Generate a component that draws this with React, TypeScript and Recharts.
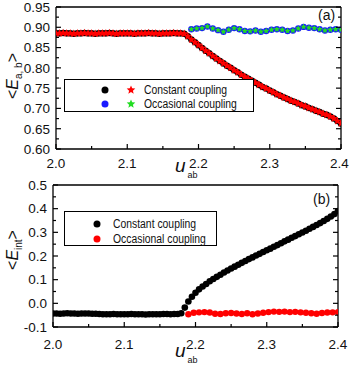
import React from "react";
import { ScatterChart, Scatter, XAxis, YAxis } from "recharts";

const FONT = '"Liberation Sans", Arial, Helvetica, sans-serif';

// u_ab grid of the constant-coupling runs (step 0.005)
const uDense = [
  2.0, 2.005, 2.01, 2.015, 2.02, 2.025, 2.03, 2.035, 2.04, 2.045,
  2.05, 2.055, 2.06, 2.065, 2.07, 2.075, 2.08, 2.085, 2.09, 2.095,
  2.1, 2.105, 2.11, 2.115, 2.12, 2.125, 2.13, 2.135, 2.14, 2.145,
  2.15, 2.155, 2.16, 2.165, 2.17, 2.175, 2.18, 2.185, 2.19, 2.195,
  2.2, 2.205, 2.21, 2.215, 2.22, 2.225, 2.23, 2.235, 2.24, 2.245,
  2.25, 2.255, 2.26, 2.265, 2.27, 2.275, 2.28, 2.285, 2.29, 2.295,
  2.3, 2.305, 2.31, 2.315, 2.32, 2.325, 2.33, 2.335, 2.34, 2.345,
  2.35, 2.355, 2.36, 2.365, 2.37, 2.375, 2.38, 2.385, 2.39, 2.395,
  2.4,
];

// panel (a): <E_a,b>, constant coupling
const eabConstant = [
  0.885, 0.885, 0.886, 0.885, 0.885, 0.884, 0.885, 0.885, 0.886, 0.885,
  0.885, 0.884, 0.885, 0.885, 0.885, 0.886, 0.885, 0.884, 0.885, 0.885,
  0.885, 0.885, 0.884, 0.885, 0.885, 0.885, 0.886, 0.885, 0.885, 0.884,
  0.885, 0.885, 0.885, 0.886, 0.885, 0.885, 0.884, 0.878, 0.87, 0.863,
  0.856, 0.849, 0.842, 0.836, 0.829, 0.823, 0.817, 0.811, 0.805, 0.8,
  0.794, 0.789, 0.783, 0.778, 0.773, 0.768, 0.763, 0.758, 0.753, 0.749,
  0.744, 0.74, 0.735, 0.731, 0.727, 0.723, 0.719, 0.716, 0.712, 0.708,
  0.705, 0.701, 0.698, 0.694, 0.691, 0.687, 0.684, 0.68, 0.675, 0.669,
  0.663,
];

// panel (b): <E_int>, constant coupling
const eintConstant = [
  -0.043, -0.043, -0.044, -0.043, -0.042, -0.043, -0.043, -0.044, -0.043, -0.043,
  -0.043, -0.044, -0.044, -0.045, -0.046, -0.046, -0.046, -0.045, -0.046, -0.046,
  -0.046, -0.046, -0.045, -0.046, -0.046, -0.046, -0.047, -0.046, -0.046, -0.046,
  -0.046, -0.045, -0.045, -0.046, -0.045, -0.045, -0.042, -0.018, 0.008, 0.028,
  0.045, 0.059, 0.071, 0.082, 0.093, 0.103, 0.112, 0.121, 0.13, 0.139,
  0.147, 0.155, 0.163, 0.171, 0.179, 0.187, 0.194, 0.202, 0.209, 0.217,
  0.224, 0.231, 0.239, 0.246, 0.254, 0.262, 0.269, 0.277, 0.284, 0.292,
  0.299, 0.307, 0.315, 0.323, 0.331, 0.339, 0.348, 0.357, 0.367, 0.377,
  0.39,
];

// occasional coupling runs start at 2.19
const uSparse = [
  2.19, 2.1975, 2.205, 2.2125, 2.22, 2.2275, 2.235, 2.2425, 2.25, 2.2575,
  2.265, 2.2725, 2.28, 2.2875, 2.295, 2.3025, 2.31, 2.3175, 2.325, 2.3325,
  2.34, 2.3475, 2.355, 2.3625, 2.37, 2.3775, 2.385, 2.3925, 2.4,
];
const eabOccasional = [
  0.895, 0.897, 0.898, 0.902, 0.897, 0.893, 0.889, 0.894, 0.898, 0.895,
  0.891, 0.89, 0.892, 0.889, 0.891, 0.894, 0.895, 0.894, 0.891, 0.892,
  0.897, 0.901, 0.899, 0.898, 0.895, 0.892, 0.894, 0.895, 0.894,
];
const eintOccasional = [
  -0.046, -0.04, -0.038, -0.037, -0.039, -0.044, -0.045, -0.042, -0.041, -0.043,
  -0.045, -0.042, -0.046, -0.043, -0.04, -0.037, -0.035, -0.036, -0.035, -0.037,
  -0.036, -0.038, -0.04, -0.042, -0.044, -0.041, -0.039, -0.038, -0.037,
];

const uTicks = [2.0, 2.05, 2.1, 2.15, 2.2, 2.25, 2.3, 2.35, 2.4];
const uMajor = [2.0, 2.1, 2.2, 2.3, 2.4];
const eabTicks = [0.6, 0.625, 0.65, 0.675, 0.7, 0.725, 0.75, 0.775, 0.8, 0.825, 0.85, 0.875, 0.9, 0.925, 0.95];
const eabMajor = [0.6, 0.65, 0.7, 0.75, 0.8, 0.85, 0.9, 0.95];
const eintTicks = [-0.1, -0.05, 0, 0.05, 0.1, 0.15, 0.2, 0.25, 0.3, 0.35, 0.4, 0.45, 0.5];
const eintMajor = [-0.1, 0, 0.1, 0.2, 0.3, 0.4, 0.5];

const pts = (xs: number[], ys: number[]) => xs.map((x, i) => ({ x, y: ys[i] }));

const AXIS = { stroke: "#000", strokeWidth: 1.3 };
const TICK_FS = 13.5;

function starPath(cx: number, cy: number, R: number) {
  const r = R * 0.45;
  let d = "";
  for (let i = 0; i < 10; i++) {
    const a = -Math.PI / 2 + (i * Math.PI) / 5;
    const rad = i % 2 ? r : R;
    d += (i ? "L" : "M") + (cx + rad * Math.cos(a)).toFixed(2) + "," + (cy + rad * Math.sin(a)).toFixed(2);
  }
  return d + "Z";
}

const dot = (r: number, fill: string) => (p: any) => <circle cx={p.cx} cy={p.cy} r={r} fill={fill} />;
const star = (R: number, fill: string) => (p: any) => <path d={starPath(p.cx, p.cy, R)} fill={fill} />;

type Side = "bottom" | "top" | "left" | "right";

// inward ticks, labels only on the major ones (bottom/left)
function axisTick(side: Side, major: number[], digits: number, gap = 0) {
  return (props: any) => {
    const { x, y, payload } = props;
    const v = Number(payload.value);
    const big = major.some((m) => Math.abs(m - v) < 1e-6);
    const len = big ? 5 : 3;
    const dx = side === "left" ? len : side === "right" ? -len : 0;
    const dy = side === "bottom" ? -len : side === "top" ? len : 0;
    let label = null;
    if (big && side === "bottom") {
      // keep the last label inside the page
      label = (
        <text x={Math.min(x, 339.5)} y={y + gap} textAnchor="middle" fontSize={TICK_FS} fontFamily={FONT} fill="#111">
          {v.toFixed(digits)}
        </text>
      );
    }
    if (big && side === "left") {
      label = (
        <text x={x - gap} y={y + 4.8} textAnchor="end" fontSize={TICK_FS} fontFamily={FONT} fill="#111">
          {v.toFixed(digits)}
        </text>
      );
    }
    return (
      <g>
        <line x1={x} y1={y} x2={x + dx} y2={y + dy} stroke="#000" strokeWidth={1.2} />
        {label}
      </g>
    );
  };
}

function Mark({ cx, cy, kind, color, size }: { cx: number; cy: number; kind: "dot" | "star"; color: string; size: number }) {
  return (
    <svg width={12} height={12} style={{ position: "absolute", left: cx - 6, top: cy - 6 }}>
      {kind === "dot" ? <circle cx={6} cy={6} r={size} fill={color} /> : <path d={starPath(6, 6, size)} fill={color} />}
    </svg>
  );
}

function LegendText({ x, cy, children }: { x: number; cy: number; children: string }) {
  return (
    <span
      style={{
        position: "absolute",
        left: x,
        top: cy - 8,
        fontSize: 12.5,
        lineHeight: "16px",
        fontFamily: FONT,
        whiteSpace: "nowrap",
        transform: "scaleX(0.83)",
        transformOrigin: "left center",
        color: "#111",
      }}
    >
      {children}
    </span>
  );
}

const boxStyle = (left: number, top: number, width: number, height: number): React.CSSProperties => ({
  position: "absolute",
  left,
  top,
  width,
  height,
  boxSizing: "border-box",
  border: "1.3px solid #000",
  background: "#fff",
});

export default function App() {
  return (
    <div style={{ position: "absolute", left: 0, top: 0, width: 350, height: 365, background: "#fff" }}>
      {/* panel (a) */}
      <div style={{ position: "absolute", left: 0, top: 0 }}>
        <ScatterChart width={350} height={182} margin={{ top: 6, right: 0, bottom: 0, left: 0 }}>
          <XAxis type="number" dataKey="x" domain={[2.0, 2.4]} allowDataOverflow ticks={uTicks} interval={0}
            tickSize={0} tickMargin={0} tickLine={false} height={33} axisLine={AXIS} tick={axisTick("bottom", uMajor, 1, 19)} />
          <XAxis xAxisId="top" orientation="top" type="number" domain={[2.0, 2.4]} allowDataOverflow ticks={uTicks} interval={0}
            tickSize={0} tickMargin={0} tickLine={false} height={1} axisLine={AXIS} tick={axisTick("top", uMajor, 1)} />
          <YAxis type="number" dataKey="y" domain={[0.6, 0.95]} allowDataOverflow ticks={eabTicks} interval={0}
            tickSize={0} tickMargin={0} tickLine={false} width={56} axisLine={AXIS} tick={axisTick("left", eabMajor, 2, 6)} />
          <YAxis yAxisId="right" orientation="right" type="number" domain={[0.6, 0.95]} allowDataOverflow ticks={eabTicks} interval={0}
            tickSize={0} tickMargin={0} tickLine={false} width={9} axisLine={AXIS} tick={axisTick("right", eabMajor, 2)} />
          <Scatter data={pts(uDense, eabConstant)} shape={dot(3.3, "#000")} isAnimationActive={false} />
          <Scatter data={pts(uDense, eabConstant)} shape={star(4.3, "#ff0000")} isAnimationActive={false} />
          <Scatter data={pts(uSparse, eabOccasional)} shape={dot(3.2, "#1a1aff")} isAnimationActive={false} />
          <Scatter data={pts(uSparse, eabOccasional)} shape={star(3.3, "#22dd22")} isAnimationActive={false} />
        </ScatterChart>
      </div>

      {/* panel (b) */}
      <div style={{ position: "absolute", left: 0, top: 176 }}>
        <ScatterChart width={350} height={189} margin={{ top: 8, right: 0, bottom: 0, left: 0 }}>
          <XAxis type="number" dataKey="x" domain={[2.0, 2.4]} allowDataOverflow ticks={uTicks} interval={0}
            tickSize={0} tickMargin={0} tickLine={false} height={38} axisLine={AXIS} tick={axisTick("bottom", uMajor, 1, 22)} />
          <XAxis xAxisId="top" orientation="top" type="number" domain={[2.0, 2.4]} allowDataOverflow ticks={uTicks} interval={0}
            tickSize={0} tickMargin={0} tickLine={false} height={1} axisLine={AXIS} tick={axisTick("top", uMajor, 1)} />
          <YAxis type="number" dataKey="y" domain={[-0.1, 0.5]} allowDataOverflow ticks={eintTicks} interval={0}
            tickSize={0} tickMargin={0} tickLine={false} width={53} axisLine={AXIS} tick={axisTick("left", eintMajor, 1, 6)} />
          <YAxis yAxisId="right" orientation="right" type="number" domain={[-0.1, 0.5]} allowDataOverflow ticks={eintTicks} interval={0}
            tickSize={0} tickMargin={0} tickLine={false} width={12} axisLine={AXIS} tick={axisTick("right", eintMajor, 1)} />
          <Scatter data={pts(uDense, eintConstant)} shape={dot(3.3, "#000")} isAnimationActive={false} />
          <Scatter data={pts(uSparse, eintOccasional)} shape={dot(3.2, "#ff0000")} isAnimationActive={false} />
        </ScatterChart>
      </div>

      {/* axis titles and panel tags */}
      <svg width={350} height={365} style={{ position: "absolute", left: 0, top: 0, pointerEvents: "none" }}>
        <g fontFamily={FONT} fill="#111">
          <text transform="translate(18,76) rotate(-90)" textAnchor="middle" fontSize={16}>
            {"<"}
            <tspan fontStyle="italic">E</tspan>
            <tspan fontSize={10} dy={4}>a, b</tspan>
            <tspan dy={-4}>{">"}</tspan>
          </text>
          <text transform="translate(18,250) rotate(-90)" textAnchor="middle" fontSize={16}>
            {"<"}
            <tspan fontStyle="italic">E</tspan>
            <tspan fontSize={10} dy={4}>int</tspan>
            <tspan dy={-4}>{">"}</tspan>
          </text>
          <text x={175} y={172} fontSize={19}>
            <tspan fontStyle="italic">u</tspan>
            <tspan fontSize={9} dx={2} dy={6}>ab</tspan>
          </text>
          <text x={175} y={357} fontSize={19}>
            <tspan fontStyle="italic">u</tspan>
            <tspan fontSize={9} dx={2} dy={6}>ab</tspan>
          </text>
          <text x={318} y={20} fontSize={14}>(a)</text>
          <text x={313} y={204} fontSize={14}>(b)</text>
        </g>
      </svg>

      {/* legend (a) */}
      <div style={boxStyle(64, 79, 190, 33)}>
        <Mark cx={40} cy={10} kind="dot" color="#000" size={3.5} />
        <Mark cx={66} cy={10} kind="star" color="#ff0000" size={4.5} />
        <LegendText x={79} cy={10}>Constant coupling</LegendText>
        <Mark cx={40} cy={24} kind="dot" color="#1a1aff" size={3.5} />
        <Mark cx={66} cy={24} kind="star" color="#22dd22" size={4.5} />
        <LegendText x={79} cy={24}>Occasional coupling</LegendText>
      </div>

      {/* legend (b) */}
      <div style={boxStyle(64, 211, 153, 35)}>
        <Mark cx={32} cy={12} kind="dot" color="#000" size={3.5} />
        <LegendText x={48} cy={12}>Constant coupling</LegendText>
        <Mark cx={32} cy={27} kind="dot" color="#ff0000" size={3.5} />
        <LegendText x={48} cy={27}>Occasional coupling</LegendText>
      </div>
    </div>
  );
}
